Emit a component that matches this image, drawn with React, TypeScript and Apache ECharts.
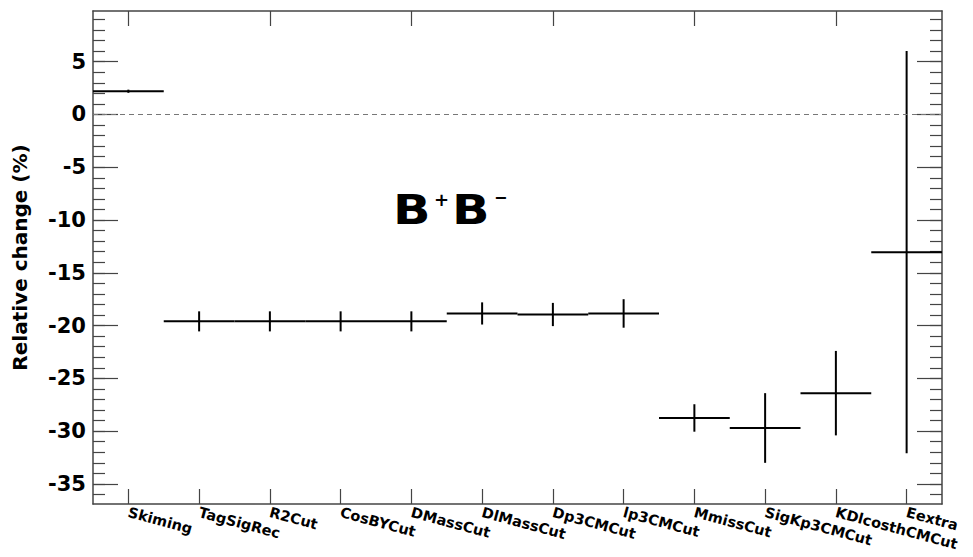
import React, { useEffect, useRef } from "react";
import * as echarts from "echarts";

const categories = [
  "Skiming",
  "TagSigRec",
  "R2Cut",
  "CosBYCut",
  "DMassCut",
  "DlMassCut",
  "Dp3CMCut",
  "lp3CMCut",
  "MmissCut",
  "SigKp3CMCut",
  "KDlcosthCMCut",
  "Eextra",
];
const values = [2.2, -19.6, -19.6, -19.6, -19.6, -18.85, -18.95, -18.85, -28.75, -29.7, -26.4, -13.05];
const errors = [0.15, 0.95, 0.95, 0.95, 0.95, 1.05, 1.1, 1.35, 1.3, 3.3, 4.0, 19.05];
const majorTicks = [-35, -30, -25, -20, -15, -10, -5, 0, 5];
const minorTicks = Array.from({ length: 46 }, (_, i) => -36 + i);
const yMin = -36.9;
const yMax = 9.8;

const FONT = "'DejaVu Sans', Verdana, sans-serif";
const FRAME = "#444";

export default function App() {
  const ref = useRef<HTMLDivElement>(null);
  useEffect(() => {
    if (!ref.current) return;
    const chart = echarts.init(ref.current, null, { renderer: "svg" });
    const yBase = {
      type: "value",
      min: yMin,
      max: yMax,
      splitLine: { show: false },
    };
    const majorY = (pos: string, labels: boolean) => ({
      ...yBase,
      position: pos,
      axisLine: { show: true, onZero: false, lineStyle: { color: FRAME, width: 1.5 } },
      axisTick: { show: true, inside: true, length: 25, customValues: majorTicks, lineStyle: { color: FRAME, width: 1.2 } },
      axisLabel: labels
        ? { show: true, customValues: majorTicks, fontFamily: FONT, fontWeight: "bold", fontSize: 21, color: "#000", margin: 7 }
        : { show: false },
      name: labels ? "Relative change (%)" : "",
      nameLocation: "middle",
      nameRotate: 90,
      nameGap: 63,
      nameTextStyle: { fontFamily: FONT, fontWeight: "bold", fontSize: 20, color: "#000" },
    });
    const minorY = (pos: string) => ({
      ...yBase,
      position: pos,
      axisLine: { show: false, onZero: false },
      axisTick: { show: true, inside: true, length: 12, customValues: minorTicks, lineStyle: { color: FRAME, width: 1.2 } },
      axisLabel: { show: false },
    });
    const xBase = {
      type: "category",
      data: categories,
      boundaryGap: true,
      axisLine: { show: true, onZero: false, lineStyle: { color: FRAME, width: 1.5 } },
      axisTick: { show: true, inside: true, length: 15, alignWithLabel: true, lineStyle: { color: FRAME, width: 1.2 } },
      splitLine: { show: false },
    };
    chart.setOption({
      animation: false,
      backgroundColor: "#fff",
      grid: { left: 93, right: 31, top: 11, bottom: 53, containLabel: false, outerBoundsMode: "none" },
      xAxis: [
        {
          ...xBase,
          position: "bottom",
          axisLabel: {
            show: true,
            interval: 0,
            rotate: -15,
            margin: 8,
            fontFamily: FONT,
            fontWeight: "bold",
            fontSize: 14.5,
            color: "#000",
          },
        },
        { ...xBase, position: "top", axisLabel: { show: false } },
      ],
      yAxis: [majorY("left", true), minorY("left"), majorY("right", false), minorY("right")],
      graphic: [
        { type: "text", x: 393, y: 210, scaleX: 1.2, style: { text: "B", font: `bold 41px ${FONT}`, fill: "#000", verticalAlign: "middle" } },
        { type: "text", x: 434, y: 199, style: { text: "+", font: `bold 18px ${FONT}`, fill: "#000", verticalAlign: "middle" } },
        { type: "text", x: 452, y: 210, scaleX: 1.2, style: { text: "B", font: `bold 41px ${FONT}`, fill: "#000", verticalAlign: "middle" } },
        { type: "text", x: 494, y: 197, style: { text: "\u2212", font: `bold 16px ${FONT}`, fill: "#000", verticalAlign: "middle" } },
      ],
      series: [
        {
          type: "custom",
          xAxisIndex: 0,
          yAxisIndex: 0,
          data: values.map((v, i) => [i, v, errors[i]]),
          renderItem: (params: any, api: any) => {
            const idx = api.value(0);
            const v = api.value(1);
            const e = api.value(2);
            const c = api.coord([idx, v]);
            const w = api.size([1, 0])[0];
            const top = api.coord([idx, v + e]);
            const bot = api.coord([idx, v - e]);
            const style = { stroke: "#000", lineWidth: 2 };
            return {
              type: "group",
              children: [
                { type: "line", shape: { x1: c[0] - w / 2, y1: c[1], x2: c[0] + w / 2, y2: c[1] }, style },
                { type: "line", shape: { x1: c[0], y1: top[1], x2: c[0], y2: bot[1] }, style },
              ],
            };
          },
          markLine: {
            silent: true,
            symbol: ["none", "none"],
            label: { show: false },
            lineStyle: { color: "#777", type: [5, 4], width: 1.2 },
            data: [{ yAxis: 0 }],
          },
        },
      ],
    });
    return () => chart.dispose();
  }, []);
  return (
    <div
      ref={ref}
      style={{ position: "fixed", left: 0, top: 0, width: 973, height: 557, background: "#fff" }}
    />
  );
}
